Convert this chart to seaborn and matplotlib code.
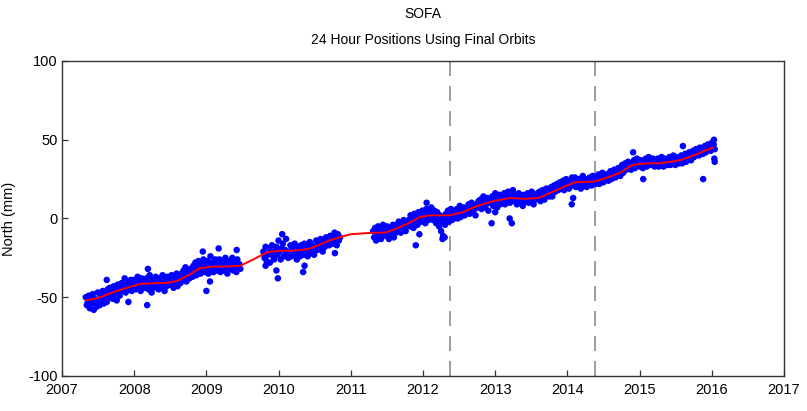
import numpy as np
import pandas as pd
import matplotlib
matplotlib.use("Agg")
import matplotlib.pyplot as plt
import seaborn as sns

# Daily solution segments (start year, end year) and North component values (mm)
seg1_span = (2007.33, 2009.47)
seg1_north = [
    -50, -55, -53, -49, -57, -52, -54, -48, -58, -51, -53, -56,
    -47, -52, -55, -49, -51, -46, -54, -50, -48, -53, -45, -50,
    -44, -49, -46, -51, -43, -48, -45, -52, -42, -47, -49, -44,
    -41, -46, -43, -38, -47, -42, -45, -40, -44, -39, -46, -42,
    -39, -43, -45, -40, -37, -44, -41, -46, -38, -42, -40, -44,
    -43, -38, -41, -45, -36, -42, -47, -39, -44, -40, -37, -43,
    -40, -45, -38, -42, -44, -36, -41, -46, -39, -43, -37, -42,
    -38, -42, -36, -41, -44, -37, -40, -35, -43, -39, -36, -41,
    -35, -39, -33, -37, -31, -40, -36, -34, -38, -32, -35, -37,
    -30, -34, -28, -36, -31, -27, -33, -35, -29, -32, -26, -34,
    -29, -33, -27, -35, -30, -24, -32, -28, -34, -31, -26, -33,
    -28, -32, -26, -34, -30, -27, -33, -29, -25, -31, -35, -28,
    -27, -32, -29, -25, -33, -30, -28, -34, -26, -31, -29, -32,
]

seg2_span = (2009.79, 2010.85)
seg2_north = [
    -21, -25, -18, -27, -23, -19, -28, -22, -17, -24, -26, -20,
    -18, -23, -14, -21, -26, -19, -16, -24, -20, -13, -22, -25,
    -21, -17, -24, -19, -23, -16, -22, -26, -18, -20, -24, -17,
    -20, -23, -16, -21, -18, -24, -19, -15, -22, -17, -21, -23,
    -18, -14, -20, -16, -19, -13, -17, -21, -15, -18, -12, -16,
    -14, -17, -11, -15, -12, -16, -9, -13, -17, -10, -14, -12,
]

seg3_span = (2011.31, 2016.04)
seg3_north = [
    -8, -12, -6, -14, -9, -5, -11, -7, -13, -10, -4, -9,
    -7, -11, -5, -9, -13, -6, -10, -8, -4, -12, -7, -9,
    -4, -8, -2, -6, -9, -3, -7, -1, -5, -8, -2, -4,
    -1, -5, 2, -3, 0, -6, 3, -2, 1, -4, 4, 0,
    2, -2, 5, 0, 3, -3, 6, 1, -1, 4, 2, 7,
    3, -1, 5, 1, -3, 4, 0, -5, 2, -8, -2, -11,
    1, -4, 3, 0, 5, -2, 2, 6, -1, 3, 0, 4,
    2, 6, 0, 4, 8, 1, 5, 3, 7, 2, 6, 4,
    5, 9, 3, 7, 10, 4, 8, 6, 2, 9, 7, 11,
    8, 12, 6, 10, 14, 7, 11, 9, 13, 5, 10, 12,
    10, 14, 8, 12, 16, 11, 7, 13, 15, 9, 12, 14,
    12, 16, 9, 14, 11, 17, 13, 10, 15, 12, 18, 14,
    11, 15, 9, 13, 16, 10, 14, 12, 8, 15, 13, 11,
    12, 16, 10, 14, 11, 17, 13, 9, 15, 12, 14, 16,
    13, 17, 11, 15, 18, 14, 12, 16, 19, 15, 17, 14,
    16, 20, 14, 18, 21, 17, 19, 22, 18, 20, 23, 19,
    20, 24, 18, 22, 25, 21, 23, 19, 24, 22, 26, 21,
    22, 26, 20, 24, 21, 25, 23, 19, 24, 27, 22, 25,
    23, 20, 25, 22, 26, 24, 21, 27, 23, 25, 22, 26,
    24, 28, 22, 26, 25, 29, 23, 27, 25, 28, 26, 24,
    27, 30, 25, 29, 28, 31, 26, 30, 28, 32, 29, 27,
    30, 34, 29, 32, 35, 31, 33, 36, 32, 34, 31, 35,
    33, 37, 32, 35, 38, 34, 36, 33, 37, 35, 32, 36,
    34, 38, 33, 36, 39, 35, 37, 34, 38, 36, 33, 37,
    35, 38, 33, 37, 34, 39, 36, 33, 38, 35, 37, 34,
    36, 39, 34, 38, 35, 40, 37, 34, 39, 36, 38, 35,
    37, 40, 35, 39, 38, 41, 36, 40, 38, 42, 39, 37,
    40, 43, 39, 42, 44, 41, 43, 40, 45, 42, 44, 41,
    43, 46, 42, 45, 47, 44, 46, 43, 48, 45, 47, 44,
]

# Isolated outlying daily solutions
outlier_year = [2007.62, 2007.92, 2008.18, 2008.19, 2008.95, 2009.00, 2009.05,
                2009.17, 2009.42, 2009.82, 2009.97, 2009.99, 2010.05, 2010.34,
                2010.36, 2010.78, 2011.90, 2011.95, 2012.05, 2012.27, 2012.30,
                2012.95, 2013.00, 2013.20, 2013.23, 2014.06, 2014.08, 2014.91,
                2015.05, 2015.60, 2015.88, 2016.03, 2016.04, 2016.035]
outlier_north = [-39, -53, -55, -32, -21, -46, -40,
                 -19, -20, -30, -33, -38, -10, -34,
                 -30, -22, -17, -10, 10, -13, -12,
                 -3, 4, 0, -3, 9, 13, 42,
                 25, 46, 25, 50, 36, 38]

# Smoothed fit (red curve)
fit_year = [2007.33, 2007.5, 2007.7, 2007.9, 2008.08, 2008.3, 2008.45, 2008.6,
            2008.75, 2008.91, 2009.1, 2009.3, 2009.47, 2009.65, 2009.84, 2010.0,
            2010.2, 2010.4, 2010.55, 2010.7, 2010.88, 2011.0, 2011.31, 2011.47,
            2011.6, 2011.8, 2011.96, 2012.1, 2012.37, 2012.55, 2012.75, 2012.97,
            2013.2, 2013.4, 2013.6, 2013.8, 2014.0, 2014.1, 2014.38, 2014.55,
            2014.73, 2014.9, 2015.1, 2015.28, 2015.56, 2015.75, 2015.9, 2016.02]
fit_north = [-52, -50.5, -47, -44, -41.5, -41, -41, -39.5,
             -36, -31.5, -30.5, -30.5, -30, -26, -21.5, -20.5,
             -20.5, -19.5, -17, -14, -11.5, -10, -9, -9,
             -7, -3, 1, 2, 2, 4, 8, 11,
             13, 12.5, 13, 17, 21, 23, 23.5, 26,
             29, 34, 35, 35, 37, 40, 43, 45]

# Epochs of equipment changes
change_epochs = [2012.37, 2014.38]

x_ticks = list(range(2007, 2018))
y_ticks = [-100, -50, 0, 50, 100]

frames = []
for span, vals in [(seg1_span, seg1_north), (seg2_span, seg2_north), (seg3_span, seg3_north)]:
    frames.append(pd.DataFrame({"year": np.linspace(span[0], span[1], len(vals)),
                                "north": vals}))
frames.append(pd.DataFrame({"year": outlier_year, "north": outlier_north}))
daily = pd.concat(frames, ignore_index=True)
fit = pd.DataFrame({"year": fit_year, "north": fit_north})

sns.set_theme(style="white")
plt.rcParams["font.family"] = ["Liberation Sans", "DejaVu Sans"]
plt.rcParams["text.color"] = "black"
plt.rcParams["axes.labelcolor"] = "black"

fig = plt.figure(figsize=(8.07, 4.11), dpi=100)
ax = fig.add_axes([0.0768, 0.0852, 0.8947, 0.7664])

sns.scatterplot(data=daily, x="year", y="north", ax=ax, color="#0000ff",
                s=22, linewidth=0, edgecolor="none", zorder=2)
sns.lineplot(data=fit, x="year", y="north", ax=ax, color="#ff0000",
             linewidth=1.4, sort=True, zorder=3)

for ep in change_epochs:
    ax.axvline(ep, color="#8c8c8c", linestyle=(0, (9, 6)), linewidth=1.2, zorder=1)

ax.set_xlim(2007, 2017)
ax.set_ylim(-100, 100)
ax.set_xticks(x_ticks)
ax.set_yticks(y_ticks)
ax.set_xticklabels([str(t) for t in x_ticks])
ax.set_yticklabels([str(t) for t in y_ticks])
ax.tick_params(direction="in", length=4, width=0.9, colors="#333333",
               labelcolor="black", labelsize=10.5,
               top=False, right=False, bottom=True, left=True)
ax.tick_params(axis="x", pad=5)
ax.tick_params(axis="y", pad=3)
for sp in ax.spines.values():
    sp.set_color("#333333")
    sp.set_linewidth(1.0)

ax.set_xlabel("")
ax.set_ylabel("North (mm)", fontsize=10.5, color="black")
ax.yaxis.set_label_coords(-0.063, 0.5)
ax.set_title("SOFA\n24 Hour Positions Using Final Orbits", fontsize=10,
             linespacing=2.1, pad=12, color="black")

fig.savefig("out.png", dpi=100)
